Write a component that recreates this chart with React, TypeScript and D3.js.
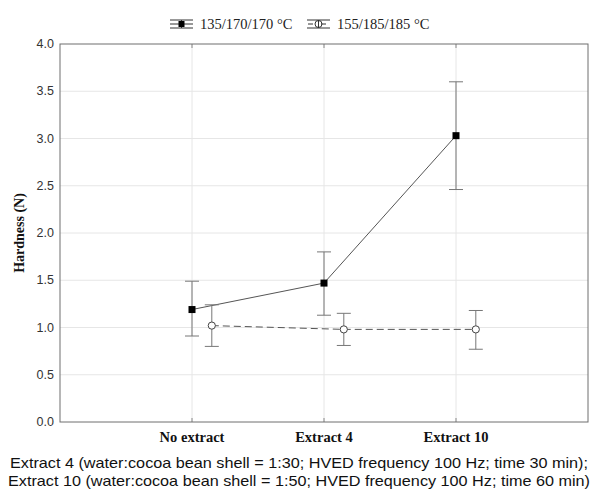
import React, { useEffect, useRef } from 'react';
import * as d3 from 'd3';

const categories = ['No extract', 'Extract 4', 'Extract 10'];
const seriesNames = ['135/170/170 °C', '155/185/185 °C'];
const lowMean = [1.19, 1.47, 3.03];
const lowLower = [0.91, 1.13, 2.46];
const lowUpper = [1.49, 1.8, 3.6];
const highMean = [1.02, 0.98, 0.98];
const highLower = [0.8, 0.81, 0.77];
const highUpper = [1.24, 1.15, 1.18];
const yTicks = [0, 0.5, 1, 1.5, 2, 2.5, 3, 3.5, 4];
const captionLines = [
  'Extract 4 (water:cocoa bean shell = 1:30; HVED frequency 100 Hz; time 30 min);',
  'Extract 10 (water:cocoa bean shell = 1:50; HVED frequency 100 Hz; time 60 min)',
];
const captionWidths = [578, 582];

const App = () => {
  const ref = useRef<SVGSVGElement>(null);

  useEffect(() => {
    const svg = d3.select(ref.current);
    svg.selectAll('*').remove();

    const margin = { left: 60, right: 10, top: 44, bottom: 74 };
    const W = 598,
      H = 496;

    const x = d3
      .scaleLinear()
      .domain([0, 4])
      .range([margin.left, W - margin.right]);
    const y = d3
      .scaleLinear()
      .domain([0, 4])
      .range([H - margin.bottom, margin.top]);

    const grid = svg.append('g');
    grid
      .selectAll('line.h')
      .data(yTicks.slice(1, -1))
      .enter()
      .append('line')
      .attr('x1', x(0))
      .attr('x2', x(4))
      .attr('y1', d => y(d))
      .attr('y2', d => y(d))
      .attr('stroke', '#e6e6e6');
    grid
      .selectAll('line.v')
      .data(categories)
      .enter()
      .append('line')
      .attr('x1', (d, i) => x(i + 1))
      .attr('x2', (d, i) => x(i + 1))
      .attr('y1', y(0))
      .attr('y2', y(4))
      .attr('stroke', '#e6e6e6');

    // small ticks on the frame
    const ticks = svg.append('g').attr('stroke', '#888');
    categories.forEach((c, i) => {
      ticks.append('line').attr('x1', x(i + 1)).attr('x2', x(i + 1)).attr('y1', y(0)).attr('y2', y(0) - 4);
      ticks.append('line').attr('x1', x(i + 1)).attr('x2', x(i + 1)).attr('y1', y(4)).attr('y2', y(4) + 4);
    });

    svg
      .append('rect')
      .attr('x', x(0))
      .attr('y', y(4))
      .attr('width', x(4) - x(0))
      .attr('height', y(0) - y(4))
      .attr('fill', 'none')
      .attr('stroke', '#6e6e6e');

    svg
      .append('g')
      .selectAll('text')
      .data(yTicks)
      .enter()
      .append('text')
      .attr('x', x(0) - 6)
      .attr('y', d => y(d) + 4)
      .attr('text-anchor', 'end')
      .attr('font-family', 'Liberation Sans, Arial, sans-serif')
      .attr('font-size', 12.5)
      .attr('fill', '#333')
      .text(d => d.toFixed(1));

    svg
      .append('g')
      .selectAll('text')
      .data(categories)
      .enter()
      .append('text')
      .attr('x', (d, i) => x(i + 1))
      .attr('y', y(0) + 20)
      .attr('text-anchor', 'middle')
      .attr('font-family', 'Liberation Serif, Times New Roman, serif')
      .attr('font-weight', 'bold')
      .attr('font-size', 14.5)
      .attr('fill', '#111')
      .text(d => d);

    svg
      .append('text')
      .attr('transform', `translate(24,${(y(0) + y(4)) / 2}) rotate(-90)`)
      .attr('text-anchor', 'middle')
      .attr('font-family', 'Liberation Serif, Times New Roman, serif')
      .attr('font-weight', 'bold')
      .attr('font-size', 14)
      .attr('fill', '#111')
      .text('Hardness (N)');

    const series = [
      { mean: lowMean, lo: lowLower, hi: lowUpper, off: 0, dash: null, marker: 'square' },
      { mean: highMean, lo: highLower, hi: highUpper, off: 0.15, dash: '7,4', marker: 'circle' },
    ];

    series.forEach(s => {
      const pts = s.mean.map((m, i) => [x(i + 1 + s.off), y(m)] as [number, number]);
      const path = svg
        .append('path')
        .attr('d', d3.line()(pts))
        .attr('fill', 'none')
        .attr('stroke', '#555')
        .attr('stroke-width', 1);
      if (s.dash) path.attr('stroke-dasharray', s.dash);

      const eb = svg.append('g').attr('stroke', '#777').attr('stroke-width', 1);
      s.mean.forEach((m, i) => {
        const cx = x(i + 1 + s.off);
        eb.append('line').attr('x1', cx).attr('x2', cx).attr('y1', y(s.lo[i])).attr('y2', y(s.hi[i]));
        eb.append('line').attr('x1', cx - 7).attr('x2', cx + 7).attr('y1', y(s.lo[i])).attr('y2', y(s.lo[i]));
        eb.append('line').attr('x1', cx - 7).attr('x2', cx + 7).attr('y1', y(s.hi[i])).attr('y2', y(s.hi[i]));
      });

      pts.forEach(p => {
        if (s.marker === 'square') {
          svg.append('rect').attr('x', p[0] - 3.5).attr('y', p[1] - 3.5).attr('width', 7).attr('height', 7).attr('fill', '#000');
        } else {
          svg.append('circle').attr('cx', p[0]).attr('cy', p[1]).attr('r', 3.6).attr('fill', '#fff').attr('stroke', '#444');
        }
      });
    });

    // legend
    const legendX = [170, 307];
    seriesNames.forEach((name, i) => {
      const g = svg.append('g').attr('transform', `translate(${legendX[i]},24)`);
      g.append('line').attr('x1', 0).attr('x2', 23).attr('y1', -4).attr('y2', -4).attr('stroke', '#333');
      g.append('line').attr('x1', 0).attr('x2', 23).attr('y1', 4).attr('y2', 4).attr('stroke', '#333');
      g.append('line').attr('x1', 11.5).attr('x2', 11.5).attr('y1', -4).attr('y2', 4).attr('stroke', '#333');
      const mid = g.append('line').attr('x1', 0).attr('x2', 23).attr('y1', 0).attr('y2', 0).attr('stroke', '#333');
      if (i === 1) mid.attr('stroke-dasharray', '5,8').attr('x1', 1);
      if (i === 0) {
        g.append('rect').attr('x', 8.5).attr('y', -3).attr('width', 6).attr('height', 6).attr('fill', '#000');
      } else {
        g.append('circle').attr('cx', 11.5).attr('cy', 0).attr('r', 3.5).attr('fill', 'none').attr('stroke', '#333');
      }
      g.append('text')
        .attr('x', 30)
        .attr('y', 5)
        .attr('font-family', 'Liberation Serif, Times New Roman, serif')
        .attr('font-size', 14.5)
        .attr('fill', '#222')
        .text(name);
    });

    svg
      .append('g')
      .selectAll('text')
      .data(captionLines)
      .enter()
      .append('text')
      .attr('x', W / 2)
      .attr('y', (d, i) => 468 + i * 18)
      .attr('text-anchor', 'middle')
      .attr('font-family', 'Liberation Sans, Arial, sans-serif')
      .attr('font-size', 14.5)
      .attr('textLength', (d, i) => captionWidths[i])
      .attr('lengthAdjust', 'spacingAndGlyphs')
      .attr('fill', '#111')
      .text(d => d);
  }, []);

  return (
    <div style={{ position: 'absolute', left: 0, top: 0 }}>
      <svg ref={ref} width={598} height={496} style={{ display: 'block', background: '#fff' }} />
    </div>
  );
};

export default App;
